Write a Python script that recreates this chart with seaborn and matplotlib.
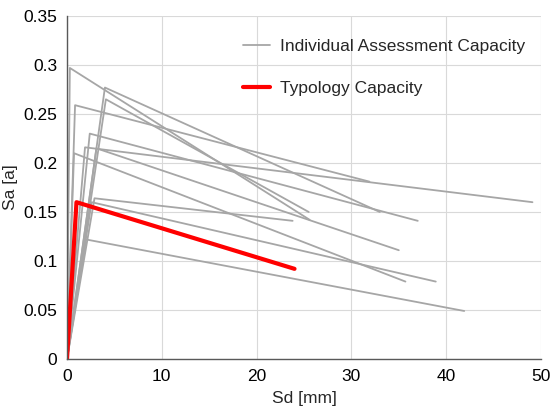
import numpy as np
import pandas as pd
import seaborn as sns
import matplotlib.pyplot as plt
from matplotlib.lines import Line2D


# Individual building capacity curves: origin -> yield point -> ultimate point

yield_sd = [0.3, 4.0, 4.1, 0.85, 2.4, 1.9, 3.1, 0.74, 2.9, 2.6, 2.0]
yield_sa = [0.297, 0.277, 0.265, 0.259, 0.230, 0.216, 0.215, 0.210, 0.164, 0.160, 0.122]
ult_sd = [25.6, 33.0, 25.5, 31.9, 37.0, 49.1, 35.0, 35.7, 23.8, 38.9, 41.9]
ult_sa = [0.142, 0.150, 0.150, 0.181, 0.141, 0.160, 0.111, 0.079, 0.141, 0.079, 0.049]

# Typology capacity curve
typ_sd = [0, 1.0, 24.0]
typ_sa = [0, 0.160, 0.092]

x_ticks = [0, 10, 20, 30, 40, 50]
y_ticks = [0, 0.05, 0.1, 0.15, 0.2, 0.25, 0.3, 0.35]
y_labels = ["0", "0.05", "0.1", "0.15", "0.2", "0.25", "0.3", "0.35"]

rows = []
for i in range(len(yield_sd)):
    rows.append({"bldg": i, "sd": 0.0, "sa": 0.0})
    rows.append({"bldg": i, "sd": yield_sd[i], "sa": yield_sa[i]})
    rows.append({"bldg": i, "sd": ult_sd[i], "sa": ult_sa[i]})
ind_df = pd.DataFrame(rows)
typ_df = pd.DataFrame({"sd": typ_sd, "sa": typ_sa})

sns.set_style("white")
plt.rcParams["font.family"] = ["Liberation Sans", "DejaVu Sans"]

fig = plt.figure(figsize=(5.52, 4.08), dpi=100)
ax = fig.add_axes([67 / 552, 1 - 359 / 408, 474 / 552, 343 / 408])

gray = "#a6a6a6"
sns.lineplot(data=ind_df, x="sd", y="sa", units="bldg", estimator=None,
             sort=False, color=gray, linewidth=1.3, ax=ax)
sns.lineplot(data=typ_df, x="sd", y="sa", estimator=None, sort=False,
             color="#ff0000", linewidth=3.0, ax=ax)

ax.set_xlim(0, 50)
ax.set_ylim(0, 0.35)
ax.set_xticks(x_ticks)
ax.set_yticks(y_ticks)
ax.set_xticklabels([str(t) for t in x_ticks])
ax.set_yticklabels(y_labels)
ax.grid(True, color="#d9d9d9", linewidth=0.8)
ax.set_axisbelow(True)
for s in ["top", "right"]:
    ax.spines[s].set_visible(False)
for s in ["left", "bottom"]:
    ax.spines[s].set_color("#595959")
    ax.spines[s].set_linewidth(1.0)
ax.tick_params(axis="both", labelsize=12.5, length=0, pad=7, colors="#000000")
ax.set_xlabel("Sd [mm]", fontsize=12.5, labelpad=5)
ax.set_ylabel("Sa [a]", fontsize=12.5, labelpad=4)

handles = [Line2D([], [], color=gray, linewidth=1.3),
           Line2D([], [], color="#ff0000", linewidth=3.0)]
ax.legend(handles, ["Individual Assessment Capacity", "Typology Capacity"],
          loc="upper right", bbox_to_anchor=(0.992, 0.968), frameon=False,
          fontsize=12.5, labelspacing=1.55, handlelength=1.55, handletextpad=0.55,
          borderaxespad=0.3)

fig.savefig("out.png", dpi=100)
